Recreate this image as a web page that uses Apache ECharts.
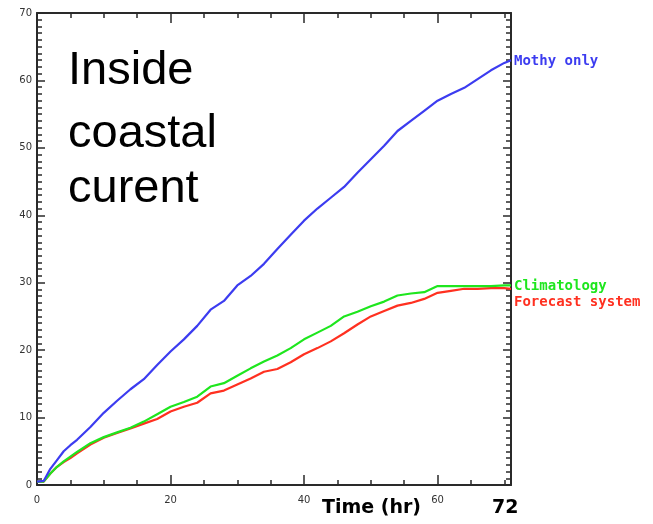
<!DOCTYPE html>
<html>
<head>
<meta charset="utf-8">
<script src="https://cdn.jsdelivr.net/npm/echarts@6/dist/echarts.min.js"></script>
<style>
html,body{margin:0;padding:0;background:#fff;}
#chart{width:653px;height:524px;}
</style>
</head>
<body>
<div id="chart"></div>
<script>
// Time (hr)
const times = [0,1,2,3,4,5,6,8,10,12,14,16,18,20,22,24,26,28,30,32,34,36,38,40,42,44,46,48,50,52,54,56,58,60,62,64,66,68,70,71];
// Mothy only
const mothy = [0.5,0.6,2.4,3.7,5.0,5.9,6.7,8.6,10.7,12.5,14.2,15.7,17.8,19.8,21.6,23.6,26.0,27.3,29.6,31.0,32.8,35.0,37.1,39.2,41.0,42.6,44.2,46.3,48.3,50.3,52.5,54.0,55.5,57.0,58.0,58.9,60.2,61.5,62.6,63.0];
// Climatology
const climatology = [0.5,0.5,1.7,2.7,3.5,4.2,4.9,6.2,7.1,7.8,8.5,9.4,10.5,11.6,12.3,13.1,14.6,15.1,16.2,17.3,18.3,19.2,20.3,21.6,22.6,23.6,25.0,25.7,26.5,27.2,28.1,28.4,28.6,29.5,29.5,29.5,29.5,29.5,29.6,29.6];
// Forecast system
const forecast = [0.5,0.5,1.7,2.7,3.4,4.0,4.7,6.0,7.0,7.7,8.4,9.1,9.8,10.9,11.6,12.2,13.6,14.0,14.9,15.8,16.8,17.2,18.2,19.4,20.3,21.3,22.5,23.8,25.0,25.8,26.6,27.0,27.6,28.5,28.8,29.1,29.1,29.2,29.2,29.1];
const xTickLabels = [0,20,40,60];
const yTickLabels = [0,10,20,30,40,50,60,70];
const seriesNames = ['Mothy only','Climatology','Forecast system'];
const annotationLines = ['Inside','coastal','curent'];
const xTitle = 'Time (hr)';
const xEndText = '72';

const X_MIN = 0, X_MAX = 71, Y_MIN = 0, Y_MAX = 70;
const axisColor = '#2a2a2a';
const labelFont = {fontFamily:'DejaVu Sans', fontSize:10, color:'#333'};

function pairs(vals){ return times.map((t,i)=>[t, vals[i]]); }

function xAx(pos, interval, len, showLine, showLabel){
  return {
    type:'value', position:pos, min:X_MIN, max:X_MAX, interval:interval,
    axisLine:{show:showLine, onZero:false, lineStyle:{color:axisColor, width:2}},
    axisTick:{show:true, inside:true, length:len, lineStyle:{color:axisColor, width:1.5}},
    axisLabel:{show:showLabel, margin:10, showMaxLabel:false, ...labelFont,
      formatter:v=> xTickLabels.includes(v) ? String(v) : ''},
    splitLine:{show:false}
  };
}
function yAx(pos, interval, len, showLine, showLabel){
  return {
    type:'value', position:pos, min:Y_MIN, max:Y_MAX, interval:interval,
    axisLine:{show:showLine, onZero:false, lineStyle:{color:axisColor, width:2}},
    axisTick:{show:true, inside:true, length:len, lineStyle:{color:axisColor, width:1.5}},
    axisLabel:{show:showLabel, margin:5, ...labelFont,
      formatter:v=> yTickLabels.includes(v) ? String(v) : ''},
    splitLine:{show:false}
  };
}

const colors = ['#3c3cf0','#1ee61e','#ff3020'];
const endOffsets = [[0,1],[0,1],[0,14]];
const seriesData = [mothy, climatology, forecast];

const chart = echarts.init(document.getElementById('chart'), null, {renderer:'canvas'});
chart.setOption({
  animation:false,
  backgroundColor:'#fff',
  grid:{left:37, right:142, top:13, bottom:39, containLabel:false},
  xAxis:[
    xAx('bottom', 20, 10, true, true),
    xAx('bottom', 5, 5, false, false),
    xAx('top', 20, 10, true, false),
    xAx('top', 5, 5, false, false)
  ],
  yAxis:[
    yAx('left', 10, 8, true, true),
    yAx('left', 1, 5, false, false),
    yAx('right', 10, 8, true, false),
    yAx('right', 1, 5, false, false)
  ],
  series: seriesNames.map((name,i)=>({
    name:name, type:'line', xAxisIndex:0, yAxisIndex:0,
    data:pairs(seriesData[i]), showSymbol:false, symbol:'none',
    lineStyle:{color:colors[i], width:2.2}, itemStyle:{color:colors[i]},
    z: 3 - i,
    endLabel:{show:true, formatter:'{a}', color:colors[i], distance:3,
      fontFamily:'DejaVu Sans Mono', fontWeight:'bold', fontSize:14, offset:endOffsets[i]}
  })),
  graphic:[
    ...annotationLines.map((t,i)=>({
      type:'text', x:68, y:[71,134,189][i],
      style:{text:t, font:'47px "Liberation Sans"', fill:'#000', verticalAlign:'middle', align:'left'}
    })),
    {type:'text', x:322, y:508, style:{text:xTitle, font:'bold 19px "DejaVu Sans"', fill:'#000', verticalAlign:'middle'}},
    {type:'text', x:492, y:508, style:{text:xEndText, font:'bold 19px "DejaVu Sans"', fill:'#000', verticalAlign:'middle'}}
  ]
});
</script>
</body>
</html>
